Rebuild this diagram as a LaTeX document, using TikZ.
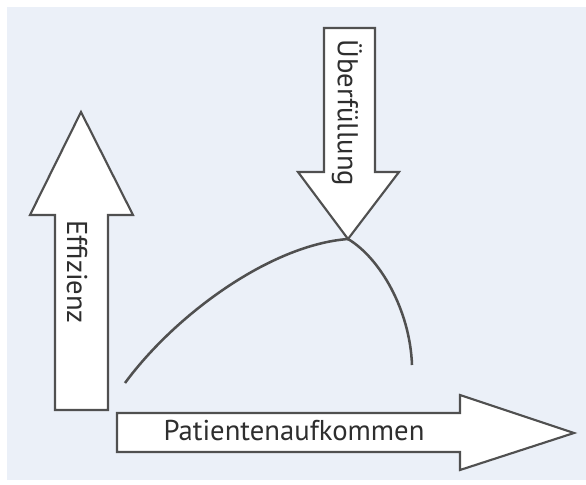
\documentclass[tikz,border=0pt]{standalone}
\usepackage{fontspec}
\setmainfont{PT Sans}
\definecolor{panel}{HTML}{EBF0F8}
\definecolor{edge}{HTML}{505050}
\definecolor{ink}{HTML}{2E2E2E}
\begin{document}
\begin{tikzpicture}[x=0.75pt,y=-0.75pt,
  bigarrow/.style={draw=edge,fill=white,line width=1.6pt,line join=miter},
  curveline/.style={draw=edge,line width=1.9pt},
  label/.style={text=ink,font=\fontsize{21.5pt}{21.5pt}\selectfont,inner sep=0pt}]
  % canvas and pale panel
  \useasboundingbox (0,0) rectangle (586,485);
  \fill[white] (0,0) rectangle (586,485);
  \fill[panel] (7,7) rectangle (586,480);

  % upward arrow (Effizienz)
  \draw[bigarrow] (55,410) -- (55,215) -- (30,215) -- (81,112) coordinate (effTip)
    -- (133,215) -- (108,215) -- (108,410) -- cycle;
  \node[label,rotate=-90] (eff) at (77,272) {Effizienz};

  % downward arrow (Überfüllung)
  \draw[bigarrow] (324,28) -- (375,28) -- (375,172) -- (399,172)
    -- (348,239) coordinate (peak) -- (298,172) -- (324,172) -- cycle;
  \node[label,rotate=-90] (over) at (347,113) {Überfüllung};

  % rightward arrow (Patientenaufkommen)
  \draw[bigarrow] (117,413) -- (460,413) -- (460,395) -- (574,433) coordinate (patTip)
    -- (460,470) -- (460,452) -- (117,452) -- cycle;
  \node[label] (pat) at (294,431) {Patientenaufkommen};

  % efficiency curve rising to the peak and falling off
  \coordinate (cStart) at (125,383);
  \coordinate (cEnd) at (412,365);
  \draw[curveline] (cStart) .. controls (175,315) and (270,245) .. (peak);
  \draw[curveline] (peak) .. controls (380,258) and (410,310) .. (cEnd);
\end{tikzpicture}
\end{document}
